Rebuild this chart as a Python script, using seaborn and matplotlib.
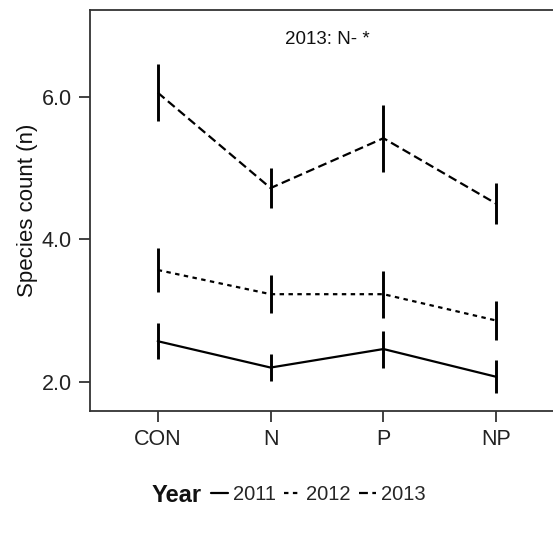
import matplotlib
matplotlib.use("Agg")
import matplotlib.pyplot as plt
import seaborn as sns
import pandas as pd
from matplotlib.lines import Line2D

# Mean species counts and standard errors per treatment and year
treatments = ["CON", "N", "P", "NP"]
years = ["2011", "2012", "2013"]
mean_2011 = [2.57, 2.20, 2.46, 2.07]
se_2011 = [0.25, 0.19, 0.26, 0.23]
mean_2012 = [3.57, 3.23, 3.23, 2.86]
se_2012 = [0.31, 0.27, 0.33, 0.27]
mean_2013 = [6.06, 4.72, 5.42, 4.50]
se_2013 = [0.40, 0.28, 0.47, 0.29]
y_ticks = [2.0, 4.0, 6.0]
annotation = "2013: N- *"

df = pd.DataFrame({
    "Treatment": treatments * 3,
    "Year": [y for y in years for _ in treatments],
    "count": mean_2011 + mean_2012 + mean_2013,
    "se": se_2011 + se_2012 + se_2013,
})
df["Treatment"] = pd.Categorical(df["Treatment"], categories=treatments, ordered=True)
df["x"] = df["Treatment"].cat.codes

sns.set_theme(style="ticks")
plt.rcParams["font.family"] = ["Liberation Sans", "DejaVu Sans"]

W, H = 553, 533
fig = plt.figure(figsize=(W / 100, H / 100), dpi=100)
ax = fig.add_axes([90 / W, 1 - 411 / H, (564 - 90) / W, (411 - 10) / H])

dash_map = {"2011": "", "2012": (2, 2), "2013": (4, 2)}
sns.lineplot(data=df, x="x", y="count", style="Year", dashes=dash_map,
             color="black", linewidth=1.6, legend=False, ax=ax, sort=False,
             estimator=None)

ax.vlines(df["x"], df["count"] - df["se"], df["count"] + df["se"],
          color="black", linewidth=2.1)

ax.text(1.5, 6.8, annotation, ha="center", va="center", fontsize=13.5,
        color="#111111")

ax.set_xlim(-0.6, 3.6)
ax.set_ylim(1.59, 7.22)
ax.set_xticks(range(len(treatments)))
ax.set_xticklabels(treatments)
ax.set_yticks(y_ticks)
ax.set_yticklabels([f"{t:.1f}" for t in y_ticks])
ax.set_xlabel("")
ax.set_ylabel("Species count (n)", fontsize=16, labelpad=3, color="#111111")
ax.tick_params(axis="both", length=8, width=1.3, color="#333333",
               labelsize=15.5, labelcolor="#222222", pad=5)
for s in ax.spines.values():
    s.set_color("#333333")
    s.set_linewidth(1.3)

handles = [Line2D([], [], color="black", linewidth=1.6,
                  dashes=dash_map[y] if dash_map[y] else (None, None)) for y in years]
fig.text(152 / W, 1 - 495 / H, "Year", fontsize=17, fontweight="bold",
         ha="left", va="center", color="#111111")
fig.legend(handles, years, loc="center left", bbox_to_anchor=(211 / W, 1 - 495 / H),
           ncol=3, frameon=False, fontsize=14.5, handlelength=0.85,
           handletextpad=0.25, columnspacing=0.4, borderpad=0, borderaxespad=0)

fig.savefig("out.png", dpi=100)
